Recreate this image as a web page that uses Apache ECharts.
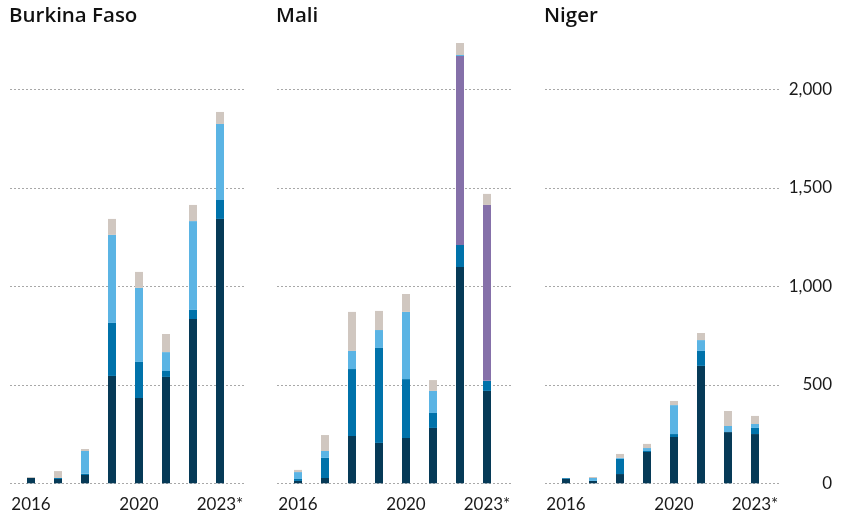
<!DOCTYPE html>
<html>
<head>
<meta charset="utf-8">
<script src="https://cdn.jsdelivr.net/npm/echarts@6/dist/echarts.min.js"></script>
<style>
html,body{margin:0;padding:0;background:#fff;}
#c{width:842px;height:516px;}
</style>
</head>
<body>
<div id="c"></div>
<script>
// ---- data ----
var years = ['2016', '2017', '2018', '2019', '2020', '2021', '2022', '2023'];
var xTickLabels = {'2016': '2016', '2020': '2020', '2023': '2023*'};
var countries = ['Burkina Faso', 'Mali', 'Niger'];
var yTickValues = [0, 500, 1000, 1500, 2000];

// Burkina Faso segments (bottom to top)
var bfDark   = [28, 22, 42, 545, 433, 540, 834, 1342];
var bfMedium = [0, 5, 7, 269, 183, 30, 46, 96];
var bfPurple = [0, 0, 0, 0, 0, 0, 0, 0];
var bfLight  = [0, 0, 115, 447, 376, 96, 451, 386];
var bfBeige  = [4, 35, 10, 81, 81, 92, 82, 61];

// Mali segments
var mlDark   = [12, 27, 240, 205, 230, 281, 1098, 469];
var mlMedium = [10, 102, 340, 482, 299, 76, 112, 51];
var mlPurple = [0, 0, 0, 0, 0, 0, 959, 893];
var mlLight  = [35, 35, 92, 91, 341, 112, 5, 0];
var mlBeige  = [11, 81, 198, 97, 91, 55, 61, 56];

// Niger segments
var nrDark   = [22, 12, 47, 159, 235, 596, 260, 250];
var nrMedium = [4, 0, 77, 5, 15, 76, 0, 31];
var nrPurple = [0, 0, 0, 0, 0, 0, 0, 0];
var nrLight  = [0, 15, 5, 15, 147, 55, 31, 20];
var nrBeige  = [0, 5, 20, 21, 21, 36, 76, 41];

var segmentNames = ['dark', 'medium', 'purple', 'light', 'beige'];
var segmentColors = ['#063A57', '#0072AA', '#8570A9', '#5BB4E4', '#D0C7C0'];
var countryData = [
  [bfDark, bfMedium, bfPurple, bfLight, bfBeige],
  [mlDark, mlMedium, mlPurple, mlLight, mlBeige],
  [nrDark, nrMedium, nrPurple, nrLight, nrBeige]
];

// ---- layout ----
var panelLeft = [10, 277, 545];
var panelWidth = 234;
var firstOffset = 21;   // px from panel left to first bar center
var step = 27;          // px per category
var TOP = 30.2, BOTTOM = 32.7;
var FONT = 'Lato, "Noto Sans", sans-serif';
var TFONT = '"Open Sans", "Noto Sans", sans-serif';

var chart = echarts.init(document.getElementById('c'), null, {renderer: 'canvas'});

var grids = [], xAxes = [], yAxes = [], series = [], titles = [];
countries.forEach(function (name, i) {
  // grid for gridlines + y labels (full panel width)
  var gBack = grids.length;
  grids.push({left: panelLeft[i], width: panelWidth, top: TOP, bottom: BOTTOM});
  xAxes.push({type: 'value', gridIndex: gBack, show: false, min: 0, max: 1, splitLine: {show: false}});
  yAxes.push({
    type: 'value', gridIndex: gBack, min: 0, max: 2300, interval: 500,
    position: 'right',
    axisLine: {show: false}, axisTick: {show: false},
    splitLine: {show: true, showMaxLine: false, lineStyle: {color: '#a8a8a8', type: [2, 2], width: 1}},
    axisLabel: {
      show: i === 2, showMaxLabel: false, align: 'right', margin: 53,
      fontFamily: FONT, fontSize: 17, color: '#1a1a1a',
      formatter: function (v) { return yTickValues.indexOf(v) >= 0 ? echarts.format.addCommas(v) : ''; }
    }
  });
  // grid for bars (category band)
  var gBar = grids.length;
  grids.push({left: panelLeft[i] + firstOffset - step / 2, width: step * years.length, top: TOP, bottom: BOTTOM});
  xAxes.push({
    type: 'category', gridIndex: gBar, data: years,
    axisLine: {show: false}, axisTick: {show: false}, splitLine: {show: false},
    axisLabel: {
      interval: 0,
      formatter: function (v) { return xTickLabels[v] || ''; },
      fontFamily: FONT, fontSize: 17, color: '#1a1a1a', margin: 13
    }
  });
  yAxes.push({type: 'value', gridIndex: gBar, min: 0, max: 2300, show: false, splitLine: {show: false}});
  titles.push({
    text: name, left: panelLeft[i] - 1, top: 5.5, padding: 0,
    textStyle: {fontFamily: TFONT, fontSize: 20.5, fontWeight: 600, color: '#111'}
  });
  countryData[i].forEach(function (arr, s) {
    series.push({
      type: 'bar', name: name + '-' + segmentNames[s],
      xAxisIndex: gBar, yAxisIndex: gBar, stack: 'c' + i,
      barWidth: 8, silent: true, animation: false,
      itemStyle: {color: segmentColors[s]},
      data: arr.slice()
    });
  });
});

chart.setOption({
  animation: false,
  backgroundColor: '#fff',
  title: titles,
  grid: grids,
  xAxis: xAxes,
  yAxis: yAxes,
  series: series
});
</script>
</body>
</html>
